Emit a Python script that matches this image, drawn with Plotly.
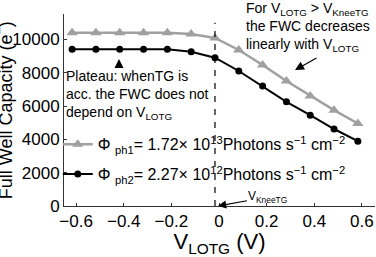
import plotly.graph_objects as go

# ---- data ----
v_lotg = [-0.6, -0.5, -0.4, -0.3, -0.2, -0.1, 0.0, 0.1, 0.2, 0.3, 0.4, 0.5, 0.6]
fwc_ph1 = [10400, 10400, 10400, 10400, 10400, 10320, 10080, 9360, 8460, 7500, 6600, 5750, 4950]
fwc_ph2 = [9400, 9400, 9400, 9400, 9400, 9250, 8900, 8100, 7200, 6250, 5450, 4620, 3890]

name_ph1 = "Φ <sub>ph1</sub>= 1.72× 10<sup>13</sup>Photons s<sup>−1</sup> cm<sup>−2</sup>"
name_ph2 = "Φ <sub>ph2</sub>= 2.27× 10<sup>12</sup>Photons s<sup>−1</sup> cm<sup>−2</sup>"

x_ticks = [-0.6, -0.4, -0.2, 0.0, 0.2, 0.4, 0.6]
x_ticktext = ["−0.6", "−0.4", "−0.2", "0", "0.2", "0.4", "0.6"]
tick_shift = 0.017  # axis ticks sit slightly right of the data points in the reference
y_ticks = [0, 2000, 4000, 6000, 8000, 10000]
y_ticktext = ["0", "2000", "4000", "6000", "8000", "10000"]
y_title = "Full Well Capacity (e<sup>−</sup>)"
knee_v = 0.0

FONT = "Liberation Sans, Arial, sans-serif"
GRAY = "#a0a0a0"

fig = go.Figure()
fig.add_trace(go.Scatter(
    x=v_lotg, y=fwc_ph1, name=name_ph1, legendgroup="a",
    mode="lines+markers",
    line=dict(color=GRAY, width=2.5),
    marker=dict(symbol="triangle-up", size=10, color=GRAY),
))
fig.add_trace(go.Scatter(
    x=v_lotg, y=fwc_ph2, name=name_ph2, legendgroup="b",
    mode="lines+markers",
    line=dict(color="black", width=2),
    marker=dict(symbol="circle", size=7, color="black"),
))

# dashed knee line
fig.add_shape(type="line", xref="x", yref="y", x0=knee_v, x1=knee_v, y0=0, y1=11000,
              line=dict(color="black", width=1.2, dash="6px,7px"))

ann_font = dict(family=FONT, size=14, color="black")
fig.add_annotation(x=-0.632, y=6653, xref="x", yref="y", xanchor="left", yanchor="middle",
                   align="left", showarrow=False, font=ann_font,
                   text="Plateau: whenTG is<br>acc. the FWC does not<br>depend on V<sub>LOTG</sub>")
fig.add_annotation(x=-0.403, y=8816, xref="x", yref="y", ax=0, ay=10, text="",
                   showarrow=True, arrowhead=2, arrowsize=1.5, arrowwidth=1.2, arrowcolor="black")
fig.add_annotation(x=0.121, y=10757, xref="x", yref="y", xanchor="left", yanchor="middle",
                   align="left", showarrow=False, font=ann_font,
                   text="For V<sub>LOTG</sub> > V<sub>KneeTG</sub><br>the FWC decreases<br>linearly with V<sub>LOTG</sub>")
fig.add_annotation(x=0.336, y=8155, xref="x", yref="y", ax=23, ay=-13, text="",
                   showarrow=True, arrowhead=2, arrowsize=1.5, arrowwidth=1.2, arrowcolor="black")
fig.add_annotation(x=0.0126, y=0, xref="x", yref="y", ax=50, ay=-9,
                   text="V<sub>KneeTG</sub>", font=dict(family=FONT, size=12, color="black"),
                   showarrow=True, arrowhead=2, arrowsize=1.5, arrowwidth=1.1, arrowcolor="black")
# y-axis title (placed like the reference, partly cut at the left edge)
fig.add_annotation(x=-0.192, y=0.5, xref="paper", yref="paper", xanchor="center", yanchor="middle",
                   textangle=-90, showarrow=False, text=y_title,
                   font=dict(family=FONT, size=18, color="black"))

fig.update_layout(
    width=376, height=257,
    margin=dict(l=64, r=1, t=14, b=51, pad=0),
    paper_bgcolor="white", plot_bgcolor="white",
    font=dict(family=FONT, color="black"),
    showlegend=True,
    legend=dict(x=-0.02, xanchor="left", y=0.41, yanchor="top",
                bgcolor="rgba(0,0,0,0)", borderwidth=0,
                font=dict(family=FONT, size=16, color="black"),
                tracegroupgap=6),
)
fig.update_xaxes(
    range=[-0.634, 0.672],
    tickvals=[t + tick_shift for t in x_ticks], ticktext=x_ticktext,
    ticks="inside", ticklen=3, tickcolor="#333",
    showline=True, linecolor="#333", linewidth=1,
    showgrid=False, zeroline=False, automargin=False,
    tickfont=dict(family=FONT, size=17, color="black"),
    title=dict(text="V<sub>LOTG</sub> (V)", font=dict(family=FONT, size=22, color="black"), standoff=2),
)
fig.update_yaxes(
    range=[0, 11520],
    tickvals=y_ticks, ticktext=y_ticktext,
    ticks="inside", ticklen=3, tickcolor="#333",
    showline=True, linecolor="#333", linewidth=1,
    showgrid=False, zeroline=False, automargin=False,
    tickfont=dict(family=FONT, size=17, color="black"),
)

fig.write_html("out.html")
